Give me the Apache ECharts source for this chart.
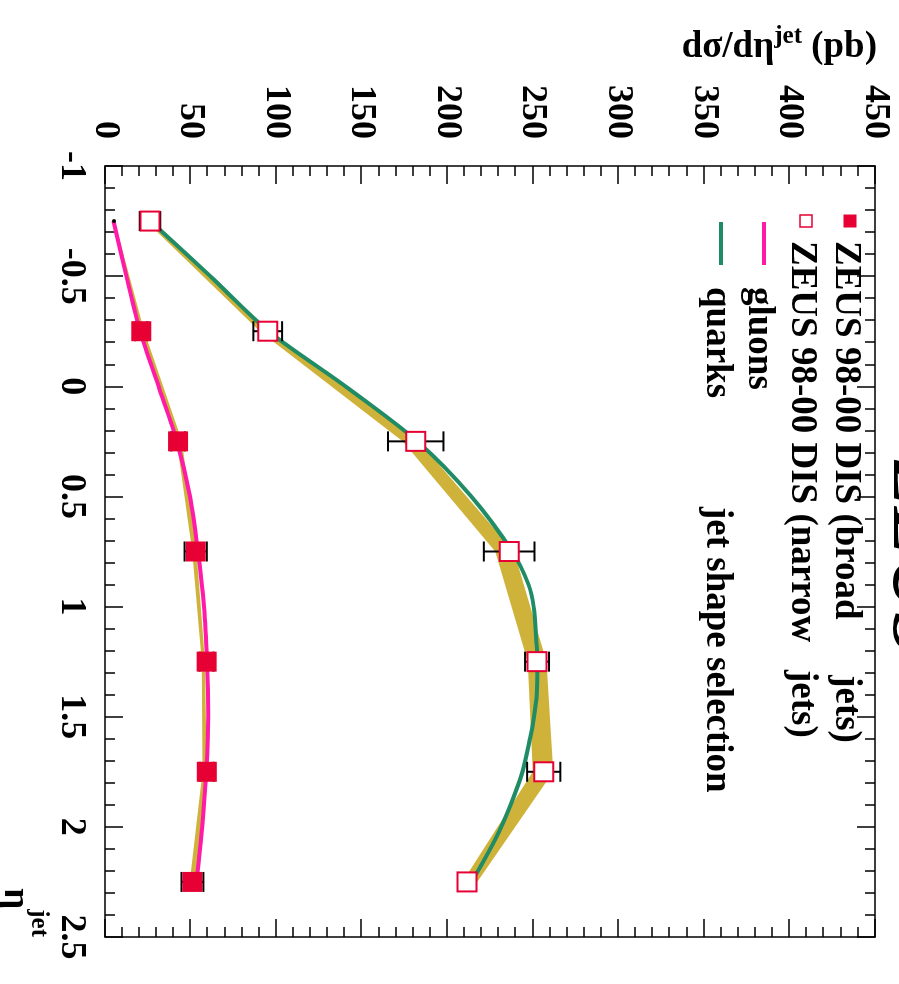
<!DOCTYPE html>
<html>
<head>
<meta charset="utf-8">
<script src="https://cdn.jsdelivr.net/npm/echarts@6/dist/echarts.min.js"></script>
<style>
  html, body { margin: 0; padding: 0; width: 899px; height: 984px; overflow: hidden; background: #fff; }
  /* The plot is laid out landscape and turned a quarter turn clockwise onto the page */
  #chart { position: absolute; left: 0; top: 0; width: 984px; height: 899px;
           transform-origin: 0 0; transform: translate(899px, 0) rotate(90deg); }
</style>
</head>
<body>
<div id="chart"></div>
<script>
// eta^jet bin centres
const etaBins = [-0.75, -0.25, 0.25, 0.75, 1.25, 1.75, 2.25];

// ZEUS 98-00 DIS, broad jets: d sigma / d eta (pb) and errors
const broadVals = [5.2, 21.2, 42.7, 53.0, 59.4, 59.5, 51.1];
const broadErrs = [0, 3.5, 4.0, 6.5, 4.0, 4.0, 6.4];

// ZEUS 98-00 DIS, narrow jets
const narrowVals = [26.3, 95.1, 181.6, 236.2, 252.5, 256.4, 211.5];
const narrowErrs = [6.0, 8.4, 16.2, 14.8, 7.0, 9.7, 5.0];

// Prediction bands at the bin centres
const broadBandLow  = [4.6, 20.5, 42.0, 51.0, 56.5, 57.0, 49.5];
const broadBandHigh = [5.6, 23.0, 45.0, 53.5, 58.5, 59.5, 53.0];
const narrowBandLow  = [24.0, 90.5, 174.0, 228.0, 247.0, 250.0, 209.0];
const narrowBandHigh = [27.0, 96.0, 183.5, 239.0, 258.0, 262.0, 217.5];

// Quark- and gluon-initiated jet curves
const quarkEta  = [-0.75, -0.5, -0.25, 0, 0.25, 0.5, 0.75, 0.9, 1.0, 1.15, 1.25, 1.4, 1.5, 1.6, 1.75, 1.9, 2.05, 2.2, 2.25];
const quarkVals = [26.5, 61.5, 95.5, 140.5, 182.5, 214.0, 238.0, 247.5, 250.5, 252.0, 252.7, 252.3, 250.7, 248.4, 244.0, 237.0, 228.5, 218.0, 214.0];
const gluonEta  = [-0.75, -0.5, -0.25, 0, 0.25, 0.5, 0.75, 1.0, 1.25, 1.5, 1.75, 2.0, 2.25];
const gluonVals = [5.0, 12.5, 20.5, 31.3, 42.0, 49.7, 54.4, 57.9, 59.6, 60.3, 59.2, 56.8, 53.5];

// Axis ranges and tick steps
const etaRange = [-1, 2.5], etaStep = 0.5;
const xsecRange = [0, 450], xsecStep = 50;

const RED = '#e60034', GREEN = '#1f8c66', PINK = '#ff1aa8', GOLD = '#cfb23a';
const SERIF = '"Liberation Serif", "Times New Roman", serif';

const zip = (xs, ys) => xs.map((x, i) => [x, ys[i]]);

function band(low, high) {
  return {
    type: 'custom', silent: true, z: 1, clip: true,
    data: [[etaBins[0], low[0]]],
    renderItem(params, api) {
      const pts = [];
      etaBins.forEach((e, i) => pts.push(api.coord([e, low[i]])));
      for (let i = etaBins.length - 1; i >= 0; i--) pts.push(api.coord([etaBins[i], high[i]]));
      return { type: 'polygon', shape: { points: pts }, style: { fill: GOLD } };
    }
  };
}

function errorBars(vals, errs) {
  return {
    type: 'custom', silent: true, z: 4,
    encode: { x: 0, y: 1 },
    data: etaBins.map((e, i) => [e, vals[i], errs[i]]),
    renderItem(params, api) {
      const e = api.value(0), v = api.value(1), d = api.value(2);
      if (!(d > 0)) return null;
      const lo = api.coord([e, v - d]), hi = api.coord([e, v + d]);
      const hw = 10, st = { stroke: '#000', lineWidth: 2 };
      return { type: 'group', children: [
        { type: 'line', shape: { x1: lo[0], y1: lo[1], x2: hi[0], y2: hi[1] }, style: st },
        { type: 'line', shape: { x1: lo[0] - hw, y1: lo[1], x2: lo[0] + hw, y2: lo[1] }, style: st },
        { type: 'line', shape: { x1: hi[0] - hw, y1: hi[1], x2: hi[0] + hw, y2: hi[1] }, style: st }
      ]};
    }
  };
}

const axisFrame = {
  axisLine: { show: true, onZero: false, lineStyle: { color: '#000', width: 1.5 } },
  axisTick: { show: true, inside: true, length: 18, lineStyle: { color: '#000', width: 1.5 } },
  minorTick: { show: true, splitNumber: 5, length: 10, lineStyle: { color: '#000', width: 1.5 } },
  splitLine: { show: false },
  minorSplitLine: { show: false }
};
const labelFont = { fontSize: 36, fontWeight: 'bold', fontFamily: SERIF, color: '#000' };

const legendText = (text, x, y) => ({
  type: 'text', x, y, z: 20,
  style: { text, fill: '#000', font: 'bold 37px ' + SERIF, align: 'left', verticalAlign: 'middle' }
});

const chart = echarts.init(document.getElementById('chart'));
chart.setOption({
  animation: false,
  backgroundColor: '#fff',
  grid: { left: 166, right: 47, top: 24, bottom: 105 },
  xAxis: [
    Object.assign({ type: 'value', min: etaRange[0], max: etaRange[1], interval: etaStep, position: 'bottom',
      axisLabel: Object.assign({ margin: 16 }, labelFont) }, axisFrame),
    Object.assign({ type: 'value', min: etaRange[0], max: etaRange[1], interval: etaStep, position: 'top',
      axisLabel: { show: false } }, axisFrame)
  ],
  yAxis: [
    Object.assign({ type: 'value', min: xsecRange[0], max: xsecRange[1], interval: xsecStep, position: 'left',
      axisLabel: Object.assign({ margin: 27 }, labelFont) }, axisFrame),
    Object.assign({ type: 'value', min: xsecRange[0], max: xsecRange[1], interval: xsecStep, position: 'right',
      axisLabel: { show: false } }, axisFrame)
  ],
  series: [
    band(narrowBandLow, narrowBandHigh),
    band(broadBandLow, broadBandHigh),
    { type: 'line', name: 'quarks', data: zip(quarkEta, quarkVals), smooth: 0.3, symbol: 'none', z: 2,
      lineStyle: { color: GREEN, width: 4 } },
    { type: 'line', name: 'gluons', data: zip(gluonEta, gluonVals), smooth: 0.3, symbol: 'none', z: 2,
      lineStyle: { color: PINK, width: 4 } },
    errorBars(narrowVals, narrowErrs),
    errorBars(broadVals, broadErrs),
    { type: 'scatter', name: 'ZEUS 98-00 DIS (narrow jets)', z: 6, symbol: 'rect', symbolSize: 19,
      data: zip(etaBins, narrowVals),
      itemStyle: { color: '#fff', borderColor: RED, borderWidth: 2, opacity: 1 } },
    { type: 'scatter', name: 'ZEUS 98-00 DIS (broad jets)', z: 6, symbol: 'rect', symbolSize: 20,
      data: zip(etaBins, broadVals).map((p, i) => i === 0
        ? { value: p, symbol: 'circle', symbolSize: 4, itemStyle: { color: '#000' } }
        : p),
      itemStyle: { color: RED, opacity: 1 } }
  ],
  graphic: [
    // experiment label, mostly beyond the top edge
    { type: 'text', x: 460, y: 23, z: 20,
      style: { text: 'ZEUS', fill: '#000', font: 'italic bold 76px ' + SERIF, align: 'left', verticalAlign: 'bottom' } },
    // legend
    { type: 'rect', z: 20, shape: { x: 214.5, y: 42.5, width: 13, height: 13 }, style: { fill: RED } },
    { type: 'rect', z: 20, shape: { x: 215, y: 87, width: 12, height: 12 }, style: { fill: '#fff', stroke: RED, lineWidth: 1.5 } },
    { type: 'line', z: 20, shape: { x1: 222, y1: 135, x2: 265, y2: 135 }, style: { stroke: PINK, lineWidth: 4 } },
    { type: 'line', z: 20, shape: { x1: 222, y1: 178, x2: 265, y2: 178 }, style: { stroke: GREEN, lineWidth: 4 } },
    legendText('ZEUS 98-00 DIS (broad      jets)', 241, 53),
    legendText('ZEUS 98-00 DIS (narrow   jets)', 241, 97),
    legendText('gluons', 287, 140),
    legendText('quarks', 287, 182),
    legendText('jet shape selection', 507, 182),
    // axis titles
    { type: 'text', x: 47, y: 22, rotation: Math.PI / 2, z: 20,
      style: { text: '{a|dσ/dη}{s|jet}{a| (pb)}', fill: '#000', align: 'right', verticalAlign: 'middle',
        rich: { a: { font: 'bold 37px ' + SERIF, lineHeight: 46 },
                s: { font: 'bold 25px ' + SERIF, verticalAlign: 'top' } } } },
    { type: 'text', x: 937, y: 920, z: 20,
      style: { text: '{a|η}{s|jet}', fill: '#000', align: 'right', verticalAlign: 'bottom',
        rich: { a: { font: 'bold 37px ' + SERIF, lineHeight: 72 },
                s: { font: 'bold 25px ' + SERIF, verticalAlign: 'top' } } } }
  ]
});
</script>
</body>
</html>
